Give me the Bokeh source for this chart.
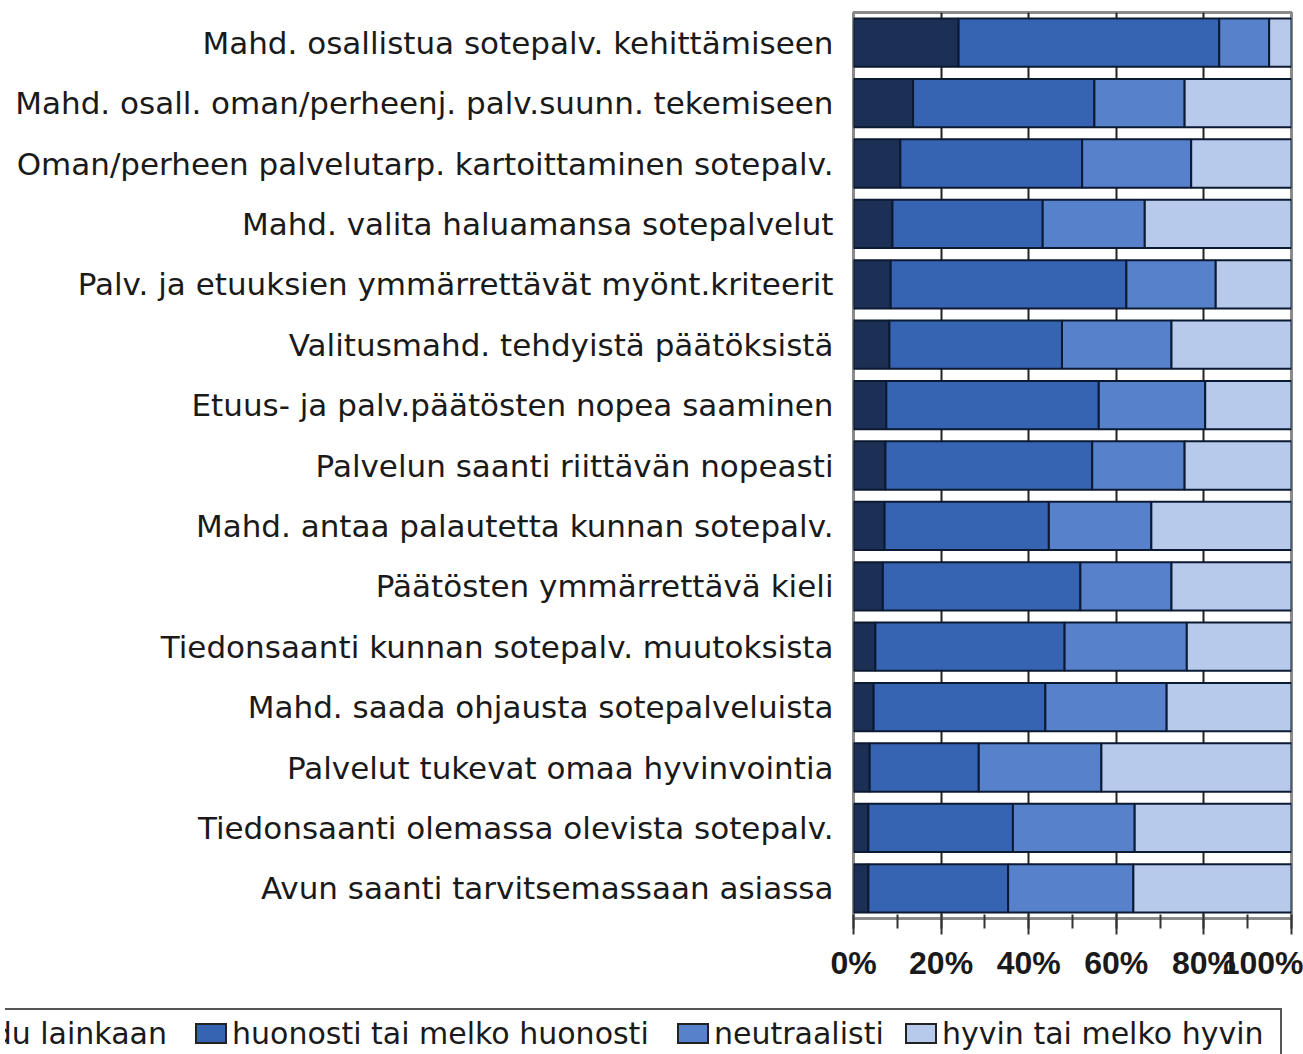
from bokeh.plotting import figure
from bokeh.layouts import column
from bokeh.models import Range1d, FactorRange, SingleIntervalTicker, PrintfTickFormatter, Div
from bokeh.embed import file_html
from bokeh.resources import INLINE

categories = [
    "Mahd. osallistua sotepalv. kehittämiseen",
    "Mahd. osall. oman/perheenj. palv.suunn. tekemiseen",
    "Oman/perheen palvelutarp. kartoittaminen sotepalv.",
    "Mahd. valita haluamansa sotepalvelut",
    "Palv. ja etuuksien ymmärrettävät myönt.kriteerit",
    "Valitusmahd. tehdyistä päätöksistä",
    "Etuus- ja palv.päätösten nopea saaminen",
    "Palvelun saanti riittävän nopeasti",
    "Mahd. antaa palautetta kunnan sotepalv.",
    "Päätösten ymmärrettävä kieli",
    "Tiedonsaanti kunnan sotepalv. muutoksista",
    "Mahd. saada ohjausta sotepalveluista",
    "Palvelut tukevat omaa hyvinvointia",
    "Tiedonsaanti olemassa olevista sotepalv.",
    "Avun saanti tarvitsemassaan asiassa",
]
series = ["ei toteudu lainkaan", "huonosti tai melko huonosti", "neutraalisti", "hyvin tai melko hyvin"]
ei_lainkaan = [24.0, 13.6, 10.7, 8.9, 8.5, 8.2, 7.5, 7.3, 7.1, 6.7, 5.0, 4.6, 3.7, 3.4, 3.4]
huonosti = [59.5, 41.4, 41.5, 34.3, 53.8, 39.4, 48.5, 47.2, 37.5, 45.1, 43.2, 39.2, 24.9, 33.0, 31.9]
neutraali = [11.4, 20.6, 24.9, 23.3, 20.4, 25.0, 24.3, 21.1, 23.4, 20.8, 27.9, 27.7, 28.0, 27.8, 28.6]
hyvin = [5.1, 24.4, 22.9, 33.5, 17.3, 27.4, 19.7, 24.4, 32.0, 27.4, 23.9, 28.5, 43.4, 35.8, 36.1]
tick_interval = 20
colors = ["#1c2f55", "#3763b3", "#5782cb", "#b8caeb"]

FONT = "DejaVu Sans"
TICK_FONT = "Liberation Sans"
TXT = "#1a1a1a"

data = dict(cat=categories)
for key, vals in zip(series, [ei_lainkaan, huonosti, neutraali, hyvin]):
    data[key] = vals

p = figure(width=1303, height=990, output_backend="svg", toolbar_location=None,
           x_range=Range1d(0, 100), y_range=FactorRange(factors=list(reversed(categories))),
           min_border_left=853, min_border_right=12, min_border_top=12, min_border_bottom=72)
p.background_fill_color = "white"
p.border_fill_color = "white"
p.outline_line_color = "#8a8a8a"
p.outline_line_width = 3

p.hbar_stack(series, y="cat", height=0.8, source=data, color=colors,
             line_color="#0b1a33", line_width=2)

p.xaxis.ticker = SingleIntervalTicker(interval=tick_interval, num_minor_ticks=2)
p.xaxis.formatter = PrintfTickFormatter(format="%d%%")
p.xaxis.axis_line_color = "#8a8a8a"
p.xaxis.axis_line_width = 3
p.xaxis.major_tick_line_color = "#333333"
p.xaxis.major_tick_line_width = 2
p.xaxis.major_tick_out = 16
p.xaxis.major_tick_in = 0
p.xaxis.minor_tick_line_color = "#333333"
p.xaxis.minor_tick_line_width = 2
p.xaxis.minor_tick_out = 10
p.xaxis.minor_tick_in = 4
p.xaxis.major_label_text_font = TICK_FONT
p.xaxis.major_label_text_font_size = "32px"
p.xaxis.major_label_text_font_style = "bold"
p.xaxis.major_label_text_color = TXT
p.xaxis.major_label_standoff = 10

p.yaxis.axis_line_color = None
p.yaxis.major_tick_line_color = None
p.yaxis.minor_tick_line_color = None
p.yaxis.major_label_text_font = FONT
p.yaxis.major_label_text_font_size = "31px"
p.yaxis.major_label_text_color = TXT
p.yaxis.major_label_standoff = 14

p.xgrid.ticker = SingleIntervalTicker(interval=tick_interval)
p.xgrid.grid_line_color = "#222222"
p.xgrid.grid_line_width = 2
p.ygrid.grid_line_color = None

# legend strip below the plot (cut at the left edge, as in the source image)
glyph_left = [-165, 190, 672, 900]
parts = ['<div style="position:relative;width:1303px;height:64px;overflow:hidden;'
         'background:white;font-family:\'DejaVu Sans\';font-size:30px;color:%s;">' % TXT,
         '<div style="position:absolute;left:-15px;top:13px;width:1292px;height:80px;'
         'box-sizing:border-box;border:2px solid #555555;background:white;"></div>']
for name, col, gx in zip(series, colors, glyph_left):
    parts.append('<div style="position:absolute;left:%dpx;top:28px;width:32px;height:21px;'
                 'box-sizing:border-box;border:2px solid #222222;background:%s;"></div>' % (gx, col))
    parts.append('<span style="position:absolute;left:%dpx;top:21px;line-height:36px;'
                 'white-space:nowrap;">%s</span>' % (gx + 37, name))
parts.append('</div>')
legend_div = Div(text="".join(parts), width=1303, height=64)

layout = column(p, legend_div, spacing=0)
open("out.html", "w").write(file_html(layout, INLINE))
